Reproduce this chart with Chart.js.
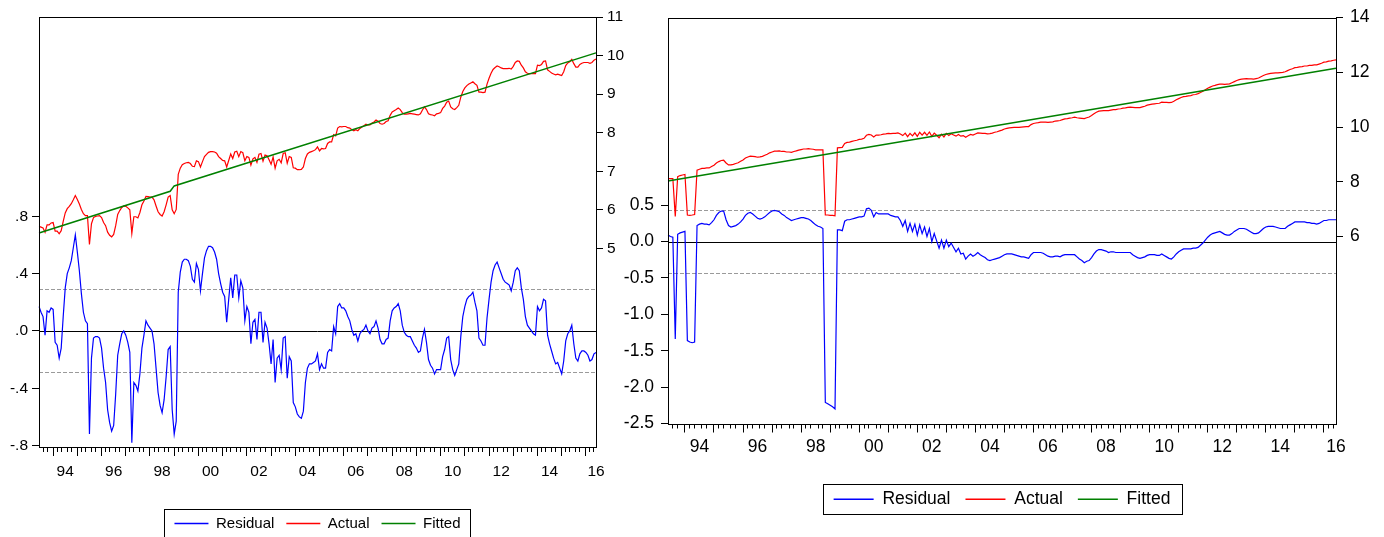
<!DOCTYPE html>
<html>
<head>
<meta charset="utf-8">
<title>Residual / Actual / Fitted</title>
<script src="https://cdn.jsdelivr.net/npm/chart.js@4.4.1/dist/chart.umd.min.js"></script>
<style>
  html, body { margin: 0; padding: 0; background: #fff; overflow: hidden; }
  body { width: 1384px; height: 537px; position: relative; }
  canvas { position: absolute; top: 0; }
  #left { left: 0; }
  #right { left: 600px; }
</style>
</head>
<body>
<canvas id="left" width="640" height="541"></canvas>
<canvas id="right" width="784" height="518"></canvas>
<script>
// monthly sample 1993M06 .. 2016M06
const months = [];
for (let y = 1993; y <= 2016; y++) {
  for (let m = 1; m <= 12; m++) {
    if ((y === 1993 && m < 6) || (y === 2016 && m > 6)) continue;
    months.push(y + 'M' + String(m).padStart(2, '0'));
  }
}

// year labels sit in the middle of the year, the last one at the end of the sample
const yearLabelMonths = ['1994M07', '1996M07', '1998M07', '2000M07', '2002M07', '2004M07',
  '2006M07', '2008M07', '2010M07', '2012M07', '2014M07', '2016M06'];
const minorTickMonths = [3, 5, 8, 10];

// ---- left panel ----
const residL = [
  0.17, 0.13, 0.10, -0.03, 0.14, 0.13, 0.16,
  0.15, -0.08, -0.10, -0.19, -0.12, 0.10, 0.30, 0.40, 0.44, 0.49, 0.58, 0.67,
  0.55, 0.42, 0.26, 0.13, 0.07, 0.05, -0.72, -0.19, -0.05, -0.04, -0.04, -0.05,
  -0.12, -0.26, -0.36, -0.55, -0.64, -0.70, -0.66, -0.44, -0.17, -0.09, -0.02, 0.00,
  -0.03, -0.08, -0.15, -0.78, -0.36, -0.38, -0.42, -0.30, -0.12, -0.03, 0.07, 0.04,
  0.02, 0.00, -0.09, -0.26, -0.43, -0.52, -0.57, -0.48, -0.32, -0.13, -0.11, -0.55,
  -0.72, -0.63, 0.27, 0.41, 0.48, 0.50, 0.50, 0.49, 0.45, 0.36, 0.34, 0.47,
  0.43, 0.28, 0.40, 0.51, 0.56, 0.59, 0.59, 0.58, 0.55, 0.50, 0.40, 0.33,
  0.27, 0.24, 0.06, 0.22, 0.37, 0.23, 0.39, 0.39, 0.23, 0.35, 0.30, 0.07,
  0.17, 0.13, -0.09, 0.06, 0.08, -0.06, 0.13, 0.13, -0.08, 0.06, 0.02, -0.09,
  -0.23, -0.06, -0.36, -0.19, -0.17, -0.27, -0.05, -0.04, -0.33, -0.18, -0.21, -0.50,
  -0.53, -0.58, -0.60, -0.61, -0.56, -0.36, -0.26, -0.23, -0.23, -0.22, -0.21, -0.16,
  -0.27, -0.23, -0.26, -0.26, -0.15, -0.13, -0.14, 0.03, -0.02, 0.17, 0.19, 0.16,
  0.16, 0.14, 0.10, 0.07, 0.01, -0.03, -0.02, -0.07, -0.02, 0.00, 0.01, 0.04,
  0.00, -0.02, 0.02, 0.03, 0.07, 0.02, -0.06, -0.09, -0.09, -0.06, -0.05, 0.07,
  0.14, 0.16, 0.17, 0.19, 0.14, 0.04, -0.01, -0.03, -0.04, -0.04, -0.07, -0.10,
  -0.12, -0.15, -0.14, -0.05, 0.01, -0.08, -0.20, -0.24, -0.26, -0.30, -0.27, -0.27,
  -0.27, -0.18, -0.13, -0.05, -0.04, -0.20, -0.27, -0.31, -0.27, -0.23, -0.04, 0.10,
  0.17, 0.22, 0.24, 0.25, 0.27, 0.20, 0.14, -0.05, -0.07, -0.10, -0.10, 0.09,
  0.22, 0.34, 0.42, 0.46, 0.48, 0.44, 0.40, 0.36, 0.34, 0.33, 0.32, 0.28,
  0.34, 0.42, 0.44, 0.42, 0.30, 0.22, 0.10, 0.04, 0.02, 0.00, -0.02, -0.03,
  0.17, 0.14, 0.16, 0.22, 0.21, -0.03, -0.09, -0.14, -0.19, -0.23, -0.22, -0.26,
  -0.30, -0.21, -0.07, -0.02, 0.00, 0.04, -0.09, -0.19, -0.21, -0.16, -0.14, -0.14,
  -0.15, -0.17, -0.21, -0.20, -0.16, -0.15
];
const actualL = [
  5.57, 5.55, 5.53, 5.42, 5.61, 5.61, 5.66,
  5.67, 5.45, 5.45, 5.38, 5.46, 5.70, 5.92, 6.03, 6.09, 6.16, 6.26, 6.37,
  6.27, 6.15, 6.01, 5.90, 5.85, 5.85, 5.10, 5.64, 5.80, 5.83, 5.84, 5.85,
  5.80, 5.67, 5.59, 5.42, 5.34, 5.30, 5.36, 5.59, 5.88, 5.98, 6.06, 6.10,
  6.09, 6.05, 6.00, 5.39, 5.82, 5.82, 5.79, 5.93, 6.13, 6.23, 6.35, 6.34,
  6.33, 6.33, 6.26, 6.10, 5.95, 5.88, 5.84, 5.95, 6.13, 6.33, 6.37, 6.00,
  5.90, 6.01, 6.92, 7.08, 7.17, 7.20, 7.22, 7.23, 7.20, 7.13, 7.12, 7.27,
  7.25, 7.11, 7.25, 7.38, 7.44, 7.49, 7.51, 7.51, 7.50, 7.47, 7.38, 7.33,
  7.28, 7.27, 7.11, 7.28, 7.45, 7.33, 7.50, 7.52, 7.38, 7.51, 7.48, 7.27,
  7.38, 7.36, 7.16, 7.32, 7.36, 7.23, 7.44, 7.46, 7.26, 7.42, 7.40, 7.30,
  7.18, 7.37, 7.08, 7.27, 7.31, 7.22, 7.46, 7.48, 7.21, 7.38, 7.36, 7.09,
  7.08, 7.04, 7.04, 7.05, 7.11, 7.33, 7.45, 7.49, 7.51, 7.53, 7.56, 7.63,
  7.53, 7.59, 7.58, 7.59, 7.72, 7.76, 7.76, 7.95, 7.92, 8.12, 8.16, 8.15,
  8.16, 8.16, 8.13, 8.12, 8.08, 8.05, 8.08, 8.05, 8.11, 8.15, 8.18, 8.22,
  8.20, 8.20, 8.25, 8.28, 8.33, 8.30, 8.24, 8.22, 8.24, 8.29, 8.31, 8.45,
  8.54, 8.57, 8.60, 8.64, 8.60, 8.52, 8.48, 8.48, 8.49, 8.50, 8.49, 8.48,
  8.47, 8.46, 8.49, 8.59, 8.67, 8.60, 8.49, 8.47, 8.46, 8.44, 8.49, 8.50,
  8.52, 8.63, 8.69, 8.79, 8.82, 8.67, 8.62, 8.60, 8.65, 8.71, 8.92, 9.07,
  9.16, 9.22, 9.26, 9.29, 9.32, 9.27, 9.23, 9.05, 9.05, 9.04, 9.05, 9.26,
  9.41, 9.54, 9.64, 9.69, 9.73, 9.71, 9.68, 9.66, 9.66, 9.66, 9.67, 9.65,
  9.72, 9.82, 9.86, 9.85, 9.75, 9.68, 9.58, 9.54, 9.53, 9.53, 9.53, 9.53,
  9.75, 9.74, 9.77, 9.85, 9.86, 9.63, 9.59, 9.55, 9.52, 9.50, 9.52, 9.50,
  9.48, 9.58, 9.74, 9.81, 9.84, 9.90, 9.79, 9.70, 9.70, 9.77, 9.80, 9.82,
  9.82, 9.82, 9.80, 9.82, 9.88, 9.91
];
// fitted line, read at its end points and at the step in late 1998
const fittedMonthsL = ['1993M06', '1998M11', '1999M01', '2016M06'];
const fittedL = [5.40, 6.48, 6.62, 10.07];
const residTicksL = [-0.8, -0.4, 0, 0.4, 0.8];
const residTickTextL = ['-.8', '-.4', '.0', '.4', '.8'];
const levelTicksL = [5, 6, 7, 8, 9, 10, 11];
const bandL = 0.29;

// ---- right panel ----
const residR = [
  0.09, 0.07, 0.06, -1.34, 0.10, 0.12, 0.13,
  0.14, -1.36, -1.38, -1.39, -1.38, 0.22, 0.24, 0.25, 0.24, 0.24, 0.23, 0.26,
  0.30, 0.36, 0.40, 0.42, 0.42, 0.30, 0.22, 0.20, 0.21, 0.22, 0.24, 0.27,
  0.31, 0.36, 0.39, 0.40, 0.38, 0.35, 0.32, 0.31, 0.32, 0.34, 0.37, 0.40,
  0.42, 0.43, 0.42, 0.41, 0.38, 0.36, 0.33, 0.31, 0.29, 0.30, 0.31, 0.32,
  0.33, 0.33, 0.32, 0.31, 0.29, 0.26, 0.23, 0.21, 0.20, 0.18, -2.21, -2.23,
  -2.25, -2.27, -2.30, 0.16, 0.16, 0.15, 0.28, 0.30, 0.30, 0.31, 0.32, 0.33,
  0.34, 0.34, 0.35, 0.45, 0.46, 0.43, 0.34, 0.40, 0.38, 0.38, 0.38, 0.38,
  0.38, 0.36, 0.35, 0.34, 0.34, 0.29, 0.21, 0.29, 0.14, 0.25, 0.14, 0.24,
  0.09, 0.23, 0.11, 0.20, 0.07, 0.18, 0.00, 0.11, 0.01, -0.09, 0.02, -0.09,
  0.02, -0.07, -0.02, -0.08, -0.14, -0.09, -0.17, -0.16, -0.24, -0.20, -0.17, -0.20,
  -0.18, -0.15, -0.18, -0.20, -0.22, -0.25, -0.26, -0.25, -0.24, -0.23, -0.22, -0.20,
  -0.18, -0.17, -0.17, -0.17, -0.18, -0.19, -0.20, -0.21, -0.21, -0.22, -0.23, -0.18,
  -0.15, -0.15, -0.15, -0.15, -0.16, -0.18, -0.20, -0.21, -0.21, -0.20, -0.20, -0.21,
  -0.19, -0.18, -0.18, -0.18, -0.18, -0.18, -0.21, -0.24, -0.26, -0.29, -0.27, -0.26,
  -0.22, -0.17, -0.13, -0.11, -0.11, -0.12, -0.13, -0.15, -0.14, -0.14, -0.15, -0.15,
  -0.15, -0.15, -0.15, -0.15, -0.15, -0.18, -0.20, -0.22, -0.23, -0.22, -0.21, -0.19,
  -0.18, -0.18, -0.18, -0.19, -0.19, -0.17, -0.19, -0.21, -0.23, -0.24, -0.21, -0.17,
  -0.14, -0.12, -0.10, -0.10, -0.10, -0.10, -0.09, -0.09, -0.08, -0.05, -0.02, 0.02,
  0.06, 0.09, 0.11, 0.12, 0.13, 0.14, 0.12, 0.10, 0.09, 0.09, 0.11, 0.14,
  0.16, 0.18, 0.18, 0.18, 0.17, 0.15, 0.13, 0.11, 0.11, 0.12, 0.15, 0.18,
  0.20, 0.21, 0.21, 0.21, 0.20, 0.19, 0.18, 0.18, 0.18, 0.21, 0.23, 0.25,
  0.27, 0.27, 0.27, 0.27, 0.27, 0.26, 0.26, 0.25, 0.25, 0.24, 0.25, 0.27,
  0.29, 0.29, 0.30, 0.30, 0.30, 0.30
];
const actualR = [
  8.12, 8.12, 8.12, 6.74, 8.19, 8.23, 8.25,
  8.27, 6.79, 6.78, 6.79, 6.81, 8.43, 8.46, 8.49, 8.49, 8.51, 8.51, 8.56,
  8.61, 8.69, 8.74, 8.78, 8.79, 8.69, 8.62, 8.62, 8.64, 8.67, 8.70, 8.75,
  8.80, 8.87, 8.91, 8.94, 8.93, 8.92, 8.90, 8.91, 8.93, 8.97, 9.01, 9.06,
  9.09, 9.12, 9.12, 9.13, 9.11, 9.11, 9.09, 9.09, 9.08, 9.11, 9.13, 9.16,
  9.18, 9.20, 9.20, 9.21, 9.20, 9.19, 9.17, 9.17, 9.17, 9.17, 6.79, 6.79,
  6.78, 6.78, 6.76, 9.24, 9.25, 9.26, 9.40, 9.44, 9.45, 9.48, 9.50, 9.52,
  9.55, 9.56, 9.59, 9.70, 9.73, 9.71, 9.64, 9.71, 9.71, 9.72, 9.74, 9.75,
  9.77, 9.76, 9.77, 9.77, 9.79, 9.75, 9.69, 9.78, 9.65, 9.77, 9.68, 9.79,
  9.66, 9.81, 9.71, 9.81, 9.70, 9.82, 9.66, 9.78, 9.70, 9.61, 9.74, 9.64,
  9.77, 9.69, 9.76, 9.71, 9.67, 9.73, 9.67, 9.69, 9.63, 9.68, 9.73, 9.71,
  9.75, 9.79, 9.78, 9.77, 9.77, 9.75, 9.76, 9.78, 9.81, 9.83, 9.86, 9.89,
  9.93, 9.95, 9.97, 9.98, 9.99, 9.99, 9.99, 10.00, 10.01, 10.02, 10.02, 10.09,
  10.13, 10.15, 10.16, 10.18, 10.18, 10.18, 10.17, 10.18, 10.19, 10.22, 10.23, 10.24,
  10.27, 10.30, 10.31, 10.33, 10.34, 10.36, 10.34, 10.33, 10.32, 10.31, 10.34, 10.37,
  10.42, 10.49, 10.54, 10.58, 10.59, 10.60, 10.60, 10.60, 10.62, 10.64, 10.64, 10.66,
  10.67, 10.69, 10.70, 10.72, 10.73, 10.72, 10.71, 10.71, 10.71, 10.74, 10.76, 10.80,
  10.82, 10.84, 10.85, 10.86, 10.87, 10.91, 10.90, 10.90, 10.89, 10.90, 10.94, 11.00,
  11.04, 11.08, 11.11, 11.12, 11.14, 11.15, 11.18, 11.19, 11.22, 11.26, 11.31, 11.36,
  11.42, 11.46, 11.50, 11.52, 11.55, 11.57, 11.57, 11.56, 11.57, 11.58, 11.62, 11.66,
  11.70, 11.73, 11.75, 11.76, 11.77, 11.76, 11.76, 11.75, 11.77, 11.79, 11.84, 11.88,
  11.92, 11.94, 11.96, 11.97, 11.98, 11.98, 11.99, 12.00, 12.02, 12.06, 12.10, 12.13,
  12.17, 12.18, 12.20, 12.21, 12.23, 12.23, 12.25, 12.25, 12.27, 12.27, 12.30, 12.33,
  12.37, 12.38, 12.41, 12.42, 12.44, 12.45
];
const fittedMonthsR = ['1993M06', '2016M06'];
const fittedR = [8.03, 12.15];
const residTicksR = [-2.5, -2, -1.5, -1, -0.5, 0, 0.5];
const residTickTextR = ['-2.5', '-2.0', '-1.5', '-1.0', '-0.5', '0.0', '0.5'];
const levelTicksR = [6, 8, 10, 12, 14];
const bandR = 0.43;

Chart.defaults.font.family = "'Liberation Sans', Arial, sans-serif";
Chart.defaults.color = '#000';

// dashed +/- 1 s.e. lines, zero line, frame and the boxed legend
const panelFrame = {
  id: 'panelFrame',
  beforeDatasetsDraw(chart, args, opts) {
    const {ctx, chartArea: a} = chart;
    const y = chart.scales.y;
    ctx.save();
    ctx.lineWidth = 1;
    ctx.strokeStyle = '#9a9a9a';
    ctx.setLineDash([4, 2]);
    [opts.band, -opts.band].forEach(v => {
      const py = Math.round(y.getPixelForValue(v)) + 0.5;
      ctx.beginPath(); ctx.moveTo(a.left, py); ctx.lineTo(a.right, py); ctx.stroke();
    });
    ctx.setLineDash([]);
    ctx.strokeStyle = '#000';
    const p0 = Math.round(y.getPixelForValue(0)) + 0.5;
    ctx.beginPath(); ctx.moveTo(a.left, p0); ctx.lineTo(a.right, p0); ctx.stroke();
    ctx.restore();
  },
  afterDatasetsDraw(chart) {
    const {ctx, chartArea: a} = chart;
    ctx.save();
    ctx.lineWidth = 1;
    ctx.strokeStyle = '#000';
    ctx.strokeRect(Math.round(a.left) + 0.5, Math.round(a.top) + 0.5,
      Math.round(a.right - a.left), Math.round(a.bottom - a.top));
    ctx.restore();
  },
  afterDraw(chart, args, opts) {
    const boxes = chart.legend && chart.legend.legendHitBoxes;
    if (!boxes || !boxes.length) return;
    const {ctx} = chart;
    const l = Math.min(...boxes.map(b => b.left)) - opts.boxPad;
    const r = Math.max(...boxes.map(b => b.left + b.width)) + opts.boxPad;
    const cy = boxes[0].top + boxes[0].height / 2;
    ctx.save();
    ctx.lineWidth = 1;
    ctx.strokeStyle = '#000';
    ctx.strokeRect(Math.round(l) + 0.5, Math.round(cy - opts.boxHalf) + 0.5,
      Math.round(r - l), Math.round(opts.boxHalf * 2));
    ctx.restore();
  }
};

// legend entries: a thin filled bar in each series colour
function legendLines(chart) {
  const items = Chart.defaults.plugins.legend.labels.generateLabels(chart);
  return items.map(item => {
    const ds = chart.data.datasets[item.datasetIndex];
    item.strokeStyle = ds.borderColor;
    item.fillStyle = ds.borderColor;
    item.lineWidth = 0;
    return item;
  });
}

function tickAxis(id, weight, len, keep) {
  return {
    type: 'category', position: 'bottom', weight: weight,
    afterBuildTicks: s => {
      s.ticks = months.map((m, i) => ({value: i})).filter(t => keep(Number(months[t.value].slice(5))));
    },
    afterFit: s => { s.height = 0; },
    ticks: {display: false, autoSkip: false},
    grid: {display: true, drawOnChartArea: false, drawTicks: true, tickLength: len, color: '#000', tickColor: '#000'},
    border: {display: false}
  };
}

function makePanel(id, p) {
  return new Chart(document.getElementById(id), {
    type: 'line',
    data: {
      labels: months,
      datasets: [
        {label: 'Residual', data: p.resid, yAxisID: 'y', order: 2,
          borderColor: '#0000ff', backgroundColor: '#0000ff', borderWidth: 1.2},
        {label: 'Actual', data: p.actual, yAxisID: 'y1', order: 1,
          borderColor: '#ff0000', backgroundColor: '#ff0000', borderWidth: 1.2},
        {label: 'Fitted', data: p.fittedMonths.map((m, i) => ({x: m, y: p.fitted[i]})), yAxisID: 'y1', order: 0,
          borderColor: '#008000', backgroundColor: '#008000', borderWidth: 1.5}
      ]
    },
    options: {
      responsive: false,
      animation: false,
      events: [],
      elements: {point: {radius: 0}, line: {tension: 0}},
      layout: {padding: {top: p.top, left: 0, right: 0, bottom: 0}},
      plugins: {
        tooltip: {enabled: false},
        legend: {
          position: 'bottom',
          fullSize: false,
          labels: {
            usePointStyle: false, boxWidth: p.legendLine, boxHeight: 1.5,
            padding: p.legendPad, color: '#000', font: {size: p.legendFont},
            generateLabels: legendLines,
            sort: (a, b) => a.datasetIndex - b.datasetIndex
          }
        },
        panelFrame: {band: p.band, boxPad: p.boxPad, boxHalf: 15}
      },
      scales: {
        x: {
          type: 'category', position: 'bottom', weight: 2,
          afterBuildTicks: s => { s.ticks = yearLabelMonths.map(m => ({value: months.indexOf(m)})); },
          afterFit: s => { s.height = p.xAxisH; },
          ticks: {autoSkip: false, maxRotation: 0, minRotation: 0, padding: p.xLabelPad, font: {size: p.font},
            callback: function (v) { return this.getLabelForValue(v).slice(2, 4); }},
          grid: {display: true, drawOnChartArea: false, drawTicks: true, tickLength: 9,
            color: 'rgba(0,0,0,0)', tickColor: 'rgba(0,0,0,0)'},
          border: {display: false}
        },
        xMajor: tickAxis('xMajor', 0, 9, m => m === 1),
        xMinor: tickAxis('xMinor', 1, 5, m => minorTickMonths.includes(m)),
        y: {
          position: 'left', min: p.residMin, max: p.residMax, bounds: 'data',
          afterBuildTicks: s => { s.ticks = p.residTicks.map(v => ({value: v})); },
          afterFit: s => { s.width = p.leftW; },
          ticks: {padding: p.yPadL, font: {size: p.font},
            callback: v => p.residTickText[p.residTicks.indexOf(v)]},
          grid: {display: true, drawOnChartArea: false, drawTicks: true, tickLength: 7, color: '#000', tickColor: '#000'},
          border: {display: false}
        },
        y1: {
          position: 'right', min: p.levelMin, max: p.levelMax, bounds: 'data',
          afterBuildTicks: s => { s.ticks = p.levelTicks.map(v => ({value: v})); },
          afterFit: s => { s.width = p.rightW; },
          ticks: {padding: p.yPadR, font: {size: p.font}, callback: v => String(v)},
          grid: {display: true, drawOnChartArea: false, drawTicks: true, tickLength: 7, color: '#000', tickColor: '#000'},
          border: {display: false}
        }
      }
    },
    plugins: [panelFrame]
  });
}

makePanel('left', {
  resid: residL, actual: actualL, fittedMonths: fittedMonthsL, fitted: fittedL,
  residMin: -0.81, residMax: 2.19, residTicks: residTicksL, residTickText: residTickTextL,
  levelMin: -0.15, levelMax: 11, levelTicks: levelTicksL, band: bandL,
  top: 17, leftW: 39, rightW: 44, xAxisH: 57, xLabelPad: 6,
  yPadL: 4, yPadR: 4, font: 15.5, legendFont: 15, legendLine: 34, legendPad: 12, boxPad: 10
});

makePanel('right', {
  resid: residR, actual: actualR, fittedMonths: fittedMonthsR, fitted: fittedR,
  residMin: -2.5, residMax: 3.08, residTicks: residTicksR, residTickText: residTickTextR,
  levelMin: -0.82, levelMax: 14, levelTicks: levelTicksR, band: bandR,
  top: 16, leftW: 68, rightW: 48, xAxisH: 52, xLabelPad: 4,
  yPadL: 7, yPadR: 7, font: 17.5, legendFont: 17.5, legendLine: 40, legendPad: 15, boxPad: 11
});
</script>
</body>
</html>
